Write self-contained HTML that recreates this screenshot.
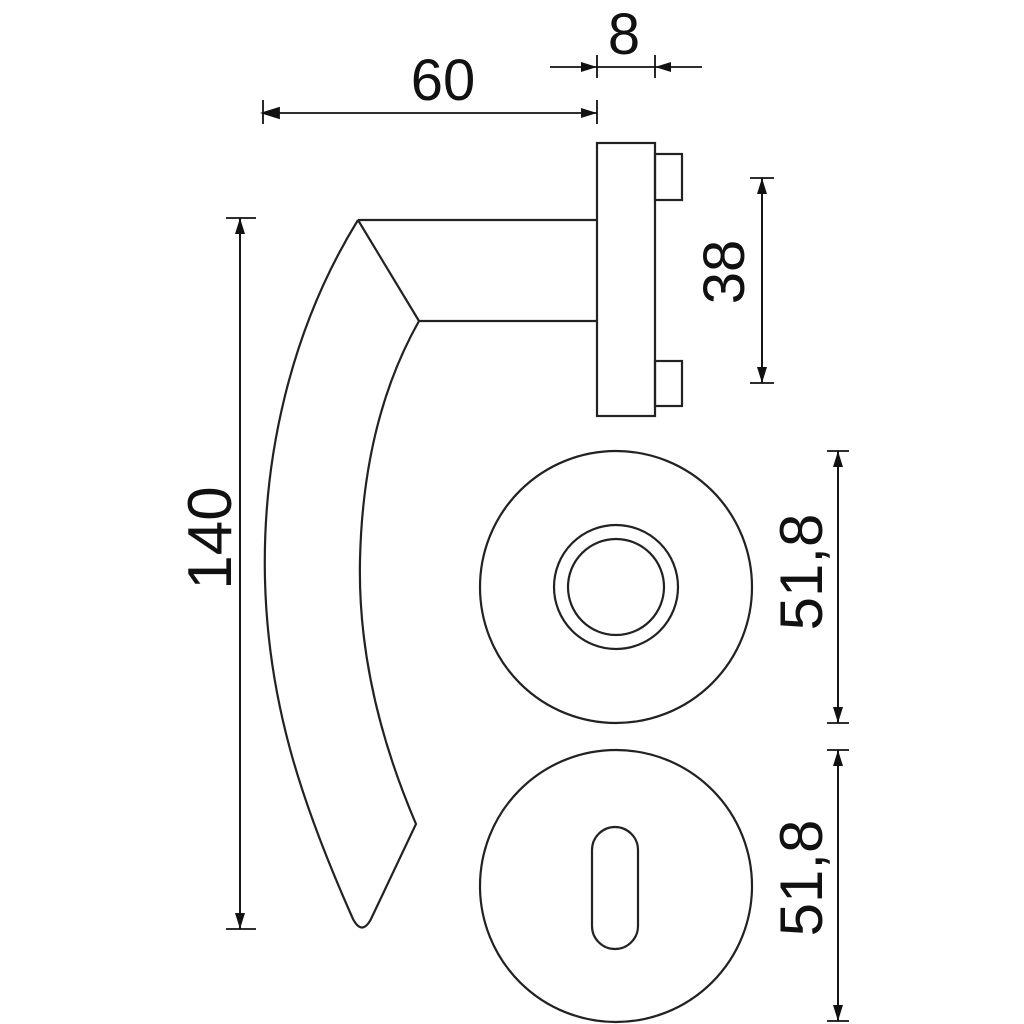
<!DOCTYPE html>
<html><head><style>html,body{margin:0;padding:0;background:#fff}svg{display:block}text{font-family:"Liberation Sans",sans-serif;fill:#111}</style></head>
<body>
<svg width="1024" height="1024" viewBox="0 0 1024 1024" xmlns="http://www.w3.org/2000/svg">
<defs>
<marker id="a" viewBox="0 0 16 10" refX="16" refY="5" markerWidth="16" markerHeight="10" markerUnits="userSpaceOnUse" orient="auto"><path d="M0,0L16,5L0,10z" fill="#111"/></marker>
</defs>
<g fill="none" stroke="#222" stroke-width="2.2">
<!-- handle -->
<path d="M358,220 L597,220 M419,321 L597,321 M358,220 L419,321"/>
<path d="M358,220 C290,330 262,460 265,580 C268,700 300,800 353,919 Q362,936 371,919 L416,824 C380,740 358,650 360,560 C362,470 380,390 419,321"/>
<rect x="597" y="143" width="58" height="273"/>
<rect x="655" y="154" width="27" height="46"/>
<rect x="655" y="361" width="27" height="45"/>
<!-- roses -->
<circle cx="616" cy="587" r="136"/>
<circle cx="616" cy="587" r="62"/>
<circle cx="616" cy="587" r="48"/>
<circle cx="616" cy="886" r="136"/>
<rect x="592" y="827" width="46" height="122" rx="23"/>
</g>
<g stroke="#111" stroke-width="1.8" fill="none">
<!-- 60 -->
<line x1="263" y1="100" x2="263" y2="124"/>
<line x1="597" y1="100" x2="597" y2="124"/>
<line x1="263" y1="113" x2="597" y2="113" marker-start="url(#a)" marker-end="url(#a)" style="marker-start:none"/>
<path d="M263,113 l16,-5 v10z" fill="#111"/>
<!-- 8 -->
<line x1="597" y1="55" x2="597" y2="78"/>
<line x1="655" y1="55" x2="655" y2="78"/>
<line x1="597" y1="67" x2="655" y2="67"/>
<line x1="550" y1="67" x2="597" y2="67" marker-end="url(#a)"/>
<line x1="702" y1="67" x2="655" y2="67" marker-end="url(#a)"/>
<!-- 38 -->
<line x1="750" y1="178" x2="774" y2="178"/>
<line x1="750" y1="383" x2="774" y2="383"/>
<line x1="762" y1="383" x2="762" y2="178" marker-end="url(#a)"/>
<line x1="762" y1="178" x2="762" y2="383" marker-end="url(#a)"/>
<!-- 140 -->
<line x1="226" y1="218" x2="256" y2="218"/>
<line x1="226" y1="929" x2="256" y2="929"/>
<line x1="240" y1="929" x2="240" y2="218" marker-end="url(#a)"/>
<line x1="240" y1="218" x2="240" y2="929" marker-end="url(#a)"/>
<!-- 51,8 a -->
<line x1="827" y1="451" x2="849" y2="451"/>
<line x1="827" y1="723" x2="849" y2="723"/>
<line x1="838" y1="723" x2="838" y2="451" marker-end="url(#a)"/>
<line x1="838" y1="451" x2="838" y2="723" marker-end="url(#a)"/>
<!-- 51,8 b -->
<line x1="827" y1="750" x2="849" y2="750"/>
<line x1="827" y1="1021" x2="849" y2="1021"/>
<line x1="838" y1="1021" x2="838" y2="750" marker-end="url(#a)"/>
<line x1="838" y1="750" x2="838" y2="1021" marker-end="url(#a)"/>
</g>
<text x="443" y="100" font-size="58" text-anchor="middle">60</text>
<text x="624" y="54" font-size="58" text-anchor="middle">8</text>
<text transform="translate(744,272) rotate(-90)" font-size="58" text-anchor="middle">38</text>
<text transform="translate(231,538) rotate(-90)" font-size="62" text-anchor="middle">140</text>
<text transform="translate(822,572) rotate(-90)" font-size="60" text-anchor="middle">51,8</text>
<text transform="translate(822,878) rotate(-90)" font-size="60" text-anchor="middle">51,8</text>
</svg>
</body></html>
